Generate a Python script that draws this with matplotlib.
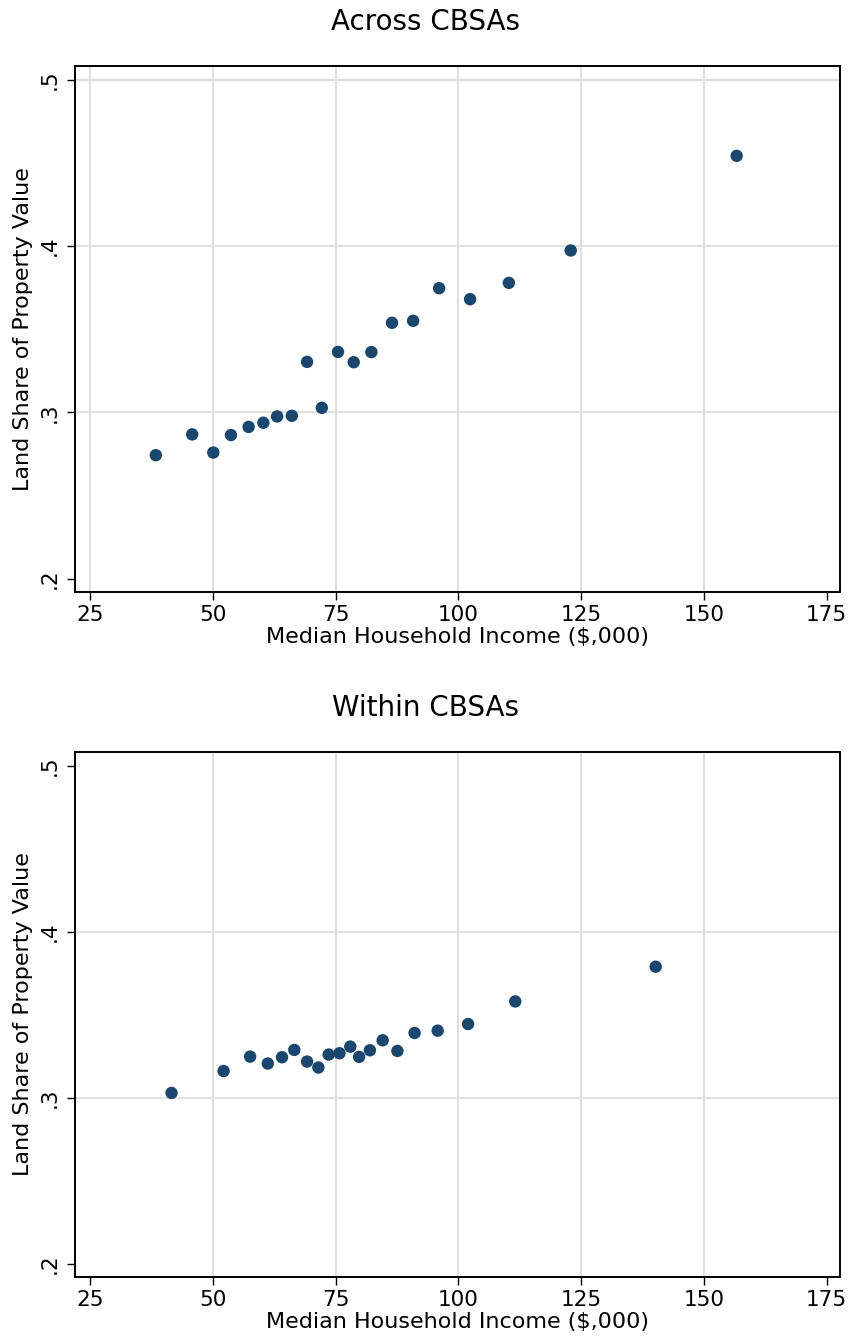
import matplotlib
matplotlib.use("Agg")
import matplotlib.pyplot as plt

# binned scatter: median household income ($,000) vs land share
across_income = [38.4, 45.8, 50.1, 53.7, 57.3, 60.3, 63.1, 66.1, 69.2, 72.2,
                 75.5, 78.7, 82.3, 86.5, 90.8, 96.1, 102.4, 110.3, 122.9, 156.7]
across_share = [0.2743, 0.2868, 0.2759, 0.2864, 0.2913, 0.2938, 0.2976, 0.2980, 0.3304, 0.3028,
                0.3364, 0.3302, 0.3363, 0.3539, 0.3551, 0.3747, 0.3681, 0.3779, 0.3974, 0.4543]

within_income = [41.6, 52.2, 57.6, 61.2, 64.1, 66.6, 69.2, 71.5, 73.6, 75.8,
                 78.0, 79.8, 82.0, 84.6, 87.6, 91.1, 95.8, 102.0, 111.6, 140.2]
within_share = [0.3030, 0.3162, 0.3249, 0.3207, 0.3245, 0.3289, 0.3219, 0.3183, 0.3261, 0.3269,
                0.3309, 0.3247, 0.3287, 0.3347, 0.3283, 0.3391, 0.3405, 0.3445, 0.3581, 0.3790]

x_ticks = [25, 50, 75, 100, 125, 150, 175]
y_ticks = [0.2, 0.3, 0.4, 0.5]
y_labels = [".2", ".3", ".4", ".5"]

NAVY = "#1a476f"
GRID = "#e0e0e0"

fig = plt.figure(figsize=(8.51, 13.38), dpi=100)


def panel(rect, x, y, title, title_y, xgrid, ygrid):
    ax = fig.add_axes(rect)
    for xv in xgrid:
        ax.axvline(xv, color=GRID, lw=1.5, zorder=0)
    for yv in ygrid:
        ax.axhline(yv, color=GRID, lw=1.5, zorder=0)
    ax.scatter(x, y, s=80, color=NAVY, edgecolors="none", zorder=3)
    ax.set_xlim(22.0, 177.8)
    ax.set_ylim(0.192, 0.5085)
    ax.set_xticks(x_ticks)
    ax.set_yticks(y_ticks)
    ax.set_yticklabels(y_labels, rotation=90, va="center")
    ax.tick_params(direction="out", length=6, width=1.0, labelsize=15.5, colors="black")
    ax.tick_params(axis="y", pad=5)
    for sp in ax.spines.values():
        sp.set_linewidth(1.4)
        sp.set_color("black")
    ax.set_xlabel("Median Household Income ($,000)", fontsize=16, labelpad=1)
    ax.set_ylabel("Land Share of Property Value", fontsize=16, labelpad=5)
    fig.text(0.5, title_y, title, ha="center", va="center", fontsize=20)
    return ax


panel([0.0885, 0.5575, 0.8989, 0.3934], across_income, across_share,
      "Across CBSAs", 1 - 22 / 1338, [25, 50, 75, 100, 125, 150], [0.3, 0.4, 0.5])
panel([0.0885, 0.0454, 0.8989, 0.3928], within_income, within_share,
      "Within CBSAs", 1 - 708 / 1338, [50, 75, 100, 125, 150], [0.3, 0.4])

fig.savefig("out.png", dpi=100)
